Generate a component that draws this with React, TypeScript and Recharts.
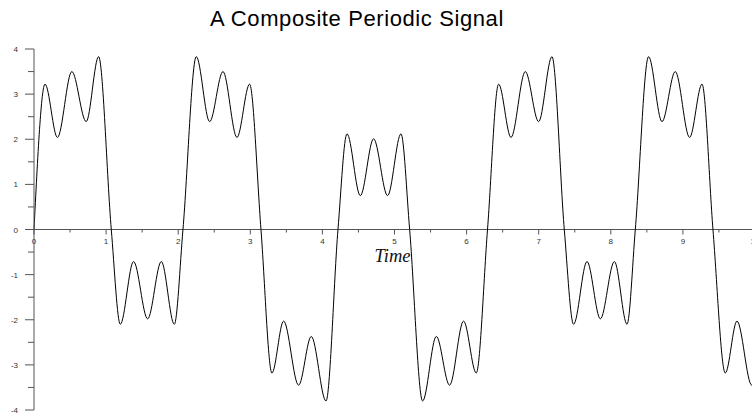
import { LineChart, Line, XAxis, YAxis, ReferenceLine, ReferenceDot } from 'recharts'

// sample times and signal values (extrema + zero crossings)
const timeValues = [
  0, 0.153, 0.325, 0.525, 0.724, 0.896, 1.072, 1.197, 1.381, 1.576, 1.766, 1.946, 2.066,
  2.251, 2.436, 2.621, 2.815, 2.99, 3.148, 3.3, 3.462, 3.67, 3.846, 4.05, 4.216,
  4.341, 4.526, 4.71, 4.904, 5.09, 5.21, 5.39, 5.58, 5.764, 5.958, 6.134, 6.29,
  6.444, 6.616, 6.814, 6.999, 7.184, 7.355, 7.484, 7.67, 7.855, 8.05, 8.225, 8.34,
  8.524, 8.71, 8.894, 9.093, 9.265, 9.417, 9.588, 9.75, 9.955, 10,
]
const signalValues = [
  0, 3.22, 2.04, 3.5, 2.39, 3.83, 0, -2.1, -0.71, -1.98, -0.71, -2.1, 0,
  3.83, 2.39, 3.5, 2.04, 3.22, 0, -3.18, -2.03, -3.45, -2.37, -3.8, 0,
  2.12, 0.75, 2.01, 0.75, 2.12, 0, -3.8, -2.37, -3.45, -2.03, -3.18, 0,
  3.22, 2.04, 3.5, 2.39, 3.83, 0, -2.1, -0.71, -1.98, -0.71, -2.1, 0,
  3.83, 2.39, 3.5, 2.04, 3.22, 0, -3.18, -2.03, -3.45, -3.4,
]

const xMajorTicks = [0, 1, 2, 3, 4, 5, 6, 7, 8, 9, 10]
const xMinorTicks = [0.5, 1.5, 2.5, 3.5, 4.5, 5.5, 6.5, 7.5, 8.5, 9.5]
const yTicks = [-4, -3.5, -3, -2.5, -2, -1.5, -1, -0.5, 0, 0.5, 1, 1.5, 2, 2.5, 3, 3.5, 4]

const data = timeValues.map((t, i) => ({ t, v: signalValues[i] }))

const AXIS = '#555'
const LABEL = '#333'

function YTick({ x, y, payload }: any) {
  const v = payload.value as number
  const major = Number.isInteger(v)
  return (
    <g>
      <line x1={x - (major ? 9 : 6)} x2={x} y1={y} y2={y} stroke={AXIS} />
      {major && (
        <text x={x - 16} y={y + 3} textAnchor="end" fontSize={8} fill={LABEL} fontFamily="Liberation Sans, Arial, sans-serif">
          {v}
        </text>
      )}
    </g>
  )
}

const xTick = (len: number, label?: string) => (p: any) => (
  <g>
    <line x1={p.cx} x2={p.cx} y1={p.cy} y2={p.cy + len} stroke={AXIS} />
    {label && (
      <text x={p.cx} y={p.cy + 14} textAnchor="middle" fontSize={8} fill={LABEL} fontFamily="Liberation Sans, Arial, sans-serif">
        {label}
      </text>
    )}
  </g>
)

const timeLabel = (p: any) => (
  <text x={p.cx - 2} y={p.cy + 32} textAnchor="middle" fontSize={18.5} fontStyle="italic" fontFamily="Liberation Serif, Times New Roman, serif" fill="#111">
    Time
  </text>
)

export default function App() {
  return (
    <div style={{ position: 'absolute', left: 0, top: 0, width: 752, height: 414, overflow: 'hidden', background: '#fff' }}>
      <div
        style={{
          position: 'absolute', top: 8, left: 0, width: 714, textAlign: 'center',
          fontFamily: 'Liberation Sans, Arial, sans-serif', fontSize: 22, lineHeight: '22px',
          letterSpacing: 0.6, color: '#000',
        }}
      >
        A Composite Periodic Signal
      </div>
      <LineChart width={755} height={414} data={data} margin={{ top: 49, right: 0, bottom: 4, left: 0 }}>
        <XAxis type="number" dataKey="t" domain={[0, 10]} hide />
        <YAxis
          type="number"
          domain={[-4, 4]}
          ticks={yTicks}
          width={34}
          interval={0}
          tickSize={0}
          tickMargin={0}
          tickLine={false}
          axisLine={{ stroke: AXIS }}
          tick={<YTick />}
        />
        <ReferenceLine y={0} stroke={AXIS} />
        {xMinorTicks.map((v) => (
          <ReferenceDot key={'m' + v} x={v} y={0} shape={xTick(3)} />
        ))}
        {xMajorTicks.map((v) => (
          <ReferenceDot key={'M' + v} x={v} y={0} shape={xTick(5, String(v))} />
        ))}
        <ReferenceDot x={5} y={0} shape={timeLabel} />
        <Line type="monotone" dataKey="v" stroke="#000" strokeWidth={1} dot={false} isAnimationActive={false} />
      </LineChart>
    </div>
  )
}
